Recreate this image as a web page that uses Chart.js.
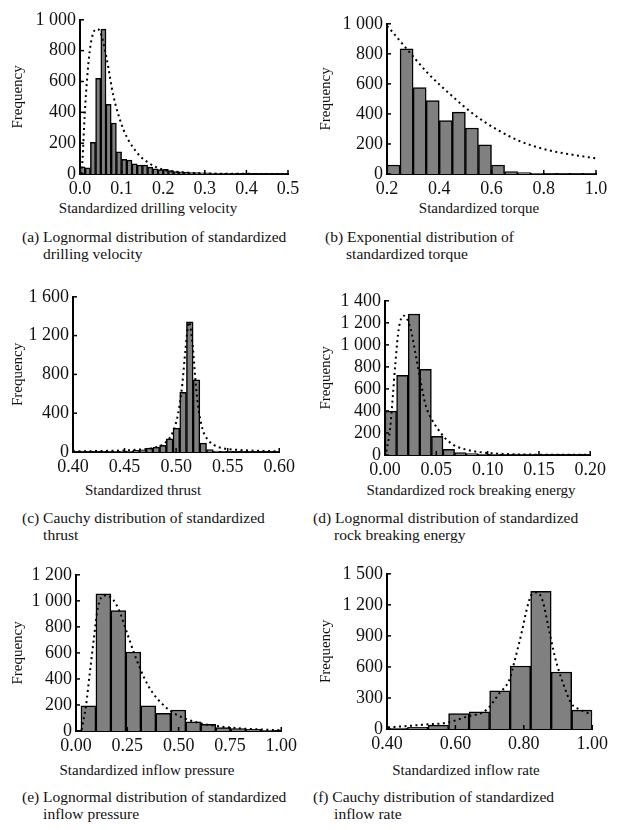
<!DOCTYPE html>
<html>
<head>
<meta charset="utf-8">
<script src="https://cdn.jsdelivr.net/npm/chart.js@4.4.0/dist/chart.umd.min.js"></script>
<style>
  body { margin: 0; background: #fff; }
  #page { position: relative; width: 618px; height: 830px; overflow: hidden; font-family: 'Liberation Serif', serif; color: #111; }
  canvas { position: absolute; }
  .xt { position: absolute; font-size: 15px; white-space: nowrap; transform: translate(-50%, -50%); }
  .cap { position: absolute; font-size: 15.5px; line-height: 17px; white-space: nowrap; padding-left: 1.36em; text-indent: -1.36em; }
</style>
</head>
<body>
<div id="page"></div>
<script>
// ---- data ----
// (a) drilling velocity, bins of 0.0125 from 0
const velBinStart = 0, velBinWidth = 0.0125;
const velCounts = [47, 40, 206, 621, 940, 452, 331, 144, 95, 90, 66, 58, 58, 45, 34, 28, 30, 22, 16, 14,
                   12, 10, 9, 8, 7, 6, 5, 5, 4, 4, 3, 3, 3, 2, 2, 2, 2, 1, 1, 1];
const velFitX = [0.003, 0.006, 0.011, 0.018, 0.025, 0.032, 0.040, 0.048, 0.064, 0.080, 0.105, 0.135, 0.165, 0.200, 0.250, 0.300, 0.400, 0.500];
const velFitY = [0, 90, 370, 650, 830, 915, 940, 925, 750, 510, 285, 145, 72, 28, 10, 4, 1, 0];
const velXTicks = ['0.0', '0.1', '0.2', '0.3', '0.4', '0.5'];
const velYTicks = ['0', '200', '400', '600', '800', '1 000'];

// (b) torque, bins of 0.05 from 0.2
const torBinStart = 0.2, torBinWidth = 0.05;
const torCounts = [60, 834, 575, 488, 356, 412, 306, 194, 60, 16, 9, 5, 3, 2, 2, 2];
const torFitX = [0.200, 0.210, 0.280, 0.357, 0.446, 0.536, 0.625, 0.714, 0.816, 0.918, 1.000];
const torFitY = [985, 967, 823, 670, 524, 392, 292, 215, 159, 126, 104];
const torXTicks = ['0.2', '0.4', '0.6', '0.8', '1.0'];
const torYTicks = ['0', '200', '400', '600', '800', '1 000'];

// (c) thrust, bins of 0.0065
const thrBinStart = 0.3995, thrBinWidth = 0.0065;
const thrCounts = [2, 2, 3, 3, 4, 5, 6, 8, 10, 17, 23, 41, 51, 68, 137, 246, 616, 1342, 743, 92,
                   24, 10, 6, 4, 3, 2, 2, 1, 1, 1, 1];
const thrFitX = [0.400, 0.430, 0.460, 0.480, 0.490, 0.497, 0.502, 0.506, 0.509, 0.5125, 0.516, 0.5185, 0.521, 0.5255, 0.5305, 0.537, 0.545, 0.560, 0.580, 0.600];
const thrFitY = [7, 11, 22, 48, 100, 210, 400, 700, 1050, 1340, 1100, 770, 500, 240, 130, 70, 40, 22, 12, 8];
const thrXTicks = ['0.40', '0.45', '0.50', '0.55', '0.60'];
const thrYTicks = ['0', '400', '800', '1 200', '1 600'];

// (d) rock breaking energy, bins of 0.0113 from 0
const rbeBinStart = 0, rbeBinWidth = 0.0113;
const rbeCounts = [398, 723, 1280, 777, 169, 52, 21, 12, 8, 6, 5, 4, 3, 2, 2, 1, 1, 1];
const rbeFitX = [0.0013, 0.005, 0.0077, 0.0102, 0.0134, 0.0185, 0.025, 0.030, 0.0348, 0.0396, 0.046, 0.0523, 0.0587, 0.0682, 0.081, 0.094, 0.120, 0.150, 0.200];
const rbeFitY = [30, 241, 542, 843, 1145, 1265, 1145, 904, 663, 452, 316, 226, 151, 84, 45, 24, 8, 3, 1];
const rbeXTicks = ['0.00', '0.05', '0.10', '0.15', '0.20'];
const rbeYTicks = ['0', '200', '400', '600', '800', '1 000', '1 200', '1 400'];

// (e) inflow pressure, bins of 0.073 from 0.024
const prsBinStart = 0.024, prsBinWidth = 0.073;
const prsCounts = [194, 1054, 926, 607, 194, 135, 161, 71, 51, 26, 18, 13, 5];
const prsFitX = [0.027, 0.048, 0.067, 0.088, 0.107, 0.139, 0.178, 0.21, 0.25, 0.29, 0.33, 0.37, 0.418, 0.466, 0.53, 0.593, 0.673, 0.753, 0.88, 1.0];
const prsFitY = [8, 186, 441, 722, 951, 1041, 1015, 926, 747, 569, 416, 301, 212, 148, 97, 64, 41, 26, 13, 6];
const prsXTicks = ['0.00', '0.25', '0.50', '0.75', '1.00'];
const prsYTicks = ['0', '200', '400', '600', '800', '1 000', '1 200'];

// (f) inflow rate, bins of 0.06 from 0.4
const rateBinStart = 0.4, rateBinWidth = 0.06;
const rateCounts = [8, 16, 38, 150, 167, 369, 609, 1330, 551, 183];
const rateFitX = [0.403, 0.46, 0.518, 0.575, 0.633, 0.69, 0.728, 0.757, 0.776, 0.795, 0.81, 0.824, 0.838, 0.855, 0.872, 0.891, 0.915, 0.939, 0.968, 1.0];
const rateFitY = [16, 29, 45, 61, 119, 183, 343, 471, 696, 952, 1176, 1304, 1320, 1240, 984, 696, 439, 247, 183, 135];
const rateXTicks = ['0.40', '0.60', '0.80', '1.00'];
const rateYTicks = ['0', '300', '600', '900', '1 200', '1 500'];

// ---- layout ----
const panels = [
  { id: 'a', plot: [80, 19, 288, 174], col: 0, start: velBinStart, width: velBinWidth, counts: velCounts, fx: velFitX, fy: velFitY, xt: velXTicks, yt: velYTicks,
    title: 'Standardized drilling velocity', tpos: [148, 208],
    cap: ['(a) Lognormal distribution of standardized', 'drilling velocity'], cpos: [22, 228] },
  { id: 'b', plot: [387, 23, 596, 174], col: 1, start: torBinStart, width: torBinWidth, counts: torCounts, fx: torFitX, fy: torFitY, xt: torXTicks, yt: torYTicks,
    title: 'Standardized torque', tpos: [479, 208],
    cap: ['(b) Exponential distribution of', 'standardized torque'], cpos: [325, 228] },
  { id: 'c', plot: [73, 296, 283, 452], col: 0, start: thrBinStart, width: thrBinWidth, counts: thrCounts, fx: thrFitX, fy: thrFitY, xt: thrXTicks, yt: thrYTicks,
    title: 'Standardized thrust', tpos: [143, 490],
    cap: ['(c) Cauchy distribution of standardized', 'thrust'], cpos: [22, 509] },
  { id: 'd', plot: [385, 300, 594, 455], col: 1, start: rbeBinStart, width: rbeBinWidth, counts: rbeCounts, fx: rbeFitX, fy: rbeFitY, xt: rbeXTicks, yt: rbeYTicks,
    title: 'Standardized rock breaking energy', tpos: [471, 490],
    cap: ['(d) Lognormal distribution of standardized', 'rock breaking energy'], cpos: [313, 509] },
  { id: 'e', plot: [76, 574, 285, 731], col: 0, start: prsBinStart, width: prsBinWidth, counts: prsCounts, fx: prsFitX, fy: prsFitY, xt: prsXTicks, yt: prsYTicks,
    title: 'Standardized inflow pressure', tpos: [147, 770],
    cap: ['(e) Lognormal distribution of standardized', 'inflow pressure'], cpos: [22, 788] },
  { id: 'f', plot: [387, 573, 596, 729], col: 1, start: rateBinStart, width: rateBinWidth, counts: rateCounts, fx: rateFitX, fy: rateFitY, xt: rateXTicks, yt: rateYTicks,
    title: 'Standardized inflow rate', tpos: [466, 770],
    cap: ['(f) Cauchy distribution of standardized', 'inflow rate'], cpos: [313, 788] }
];

Chart.defaults.font.family = "'Liberation Serif', serif";
Chart.defaults.color = '#111';

// tick marks pointing into the plot
const inwardTicks = {
  id: 'inwardTicks',
  afterDraw(chart) {
    const ctx = chart.ctx, area = chart.chartArea;
    ctx.save();
    ctx.strokeStyle = '#000';
    ctx.lineWidth = 1.5;
    chart.scales.x.ticks.forEach(t => {
      const px = chart.scales.x.getPixelForValue(t.value);
      ctx.beginPath(); ctx.moveTo(px, area.bottom); ctx.lineTo(px, area.bottom - 4); ctx.stroke();
    });
    chart.scales.y.ticks.forEach(t => {
      const py = chart.scales.y.getPixelForValue(t.value);
      ctx.beginPath(); ctx.moveTo(area.left, py); ctx.lineTo(area.left + 4, py); ctx.stroke();
    });
    ctx.restore();
  }
};

const toNum = s => parseFloat(s.replace(/ /g, ''));
const page = document.getElementById('page');

panels.forEach(p => {
  const [pl, pt, pr, pb] = p.plot;
  const left = p.col ? 308 : 0;
  const top = pt - 14;
  const right = Math.min(618, pr + 16);
  const bottom = pb + 24;

  const cv = document.createElement('canvas');
  cv.width = right - left;
  cv.height = bottom - top;
  cv.style.left = left + 'px';
  cv.style.top = top + 'px';
  page.appendChild(cv);

  const xVals = p.xt.map(toNum), yVals = p.yt.map(toNum);
  const bars = p.counts.map((c, i) => ({ x: p.start + (i + 0.5) * p.width, y: c }));
  const fit = p.fx.map((x, i) => ({ x: x, y: p.fy[i] }));

  new Chart(cv, {
    type: 'bar',
    data: {
      datasets: [
        { type: 'line', data: fit, borderColor: '#000', borderWidth: 2, borderDash: [2, 3.5],
          pointRadius: 0, cubicInterpolationMode: 'monotone', fill: false, order: 0 },
        { type: 'bar', data: bars, backgroundColor: '#808080', borderColor: '#000', borderWidth: 1.5,
          barPercentage: 1, categoryPercentage: 1, order: 1 }
      ]
    },
    plugins: [inwardTicks],
    options: {
      responsive: false,
      animation: false,
      layout: { padding: { top: 14, right: right - pr, left: 0, bottom: 0 } },
      plugins: { legend: { display: false }, tooltip: { enabled: false } },
      scales: {
        x: {
          type: 'linear', min: xVals[0], max: xVals[xVals.length - 1], offset: false,
          grid: { display: false, drawTicks: false },
          border: { display: true, color: '#000', width: 2 },
          afterBuildTicks: s => { s.ticks = xVals.map(v => ({ value: v })); },
          afterFit: s => { s.height = bottom - pb; },
          ticks: { font: { size: 18 }, color: '#111', padding: 4, maxRotation: 0, autoSkip: false,
                   callback: (v, i) => p.xt[i] }
        },
        y: {
          min: yVals[0], max: yVals[yVals.length - 1],
          grid: { display: false, drawTicks: false },
          border: { display: true, color: '#000', width: 2 },
          afterBuildTicks: s => { s.ticks = yVals.map(v => ({ value: v })); },
          afterFit: s => { s.width = pl - left; },
          title: { display: true, text: 'Frequency', font: { size: 15 }, color: '#111', padding: { top: 9, bottom: 0 } },
          ticks: { font: { size: 18 }, color: '#111', padding: 4, autoSkip: false,
                   callback: (v, i) => p.yt[i] }
        }
      }
    }
  });

  const t = document.createElement('div');
  t.className = 'xt';
  t.style.left = p.tpos[0] + 'px';
  t.style.top = p.tpos[1] + 'px';
  t.textContent = p.title;
  page.appendChild(t);

  const c = document.createElement('div');
  c.className = 'cap';
  c.style.left = p.cpos[0] + 'px';
  c.style.top = p.cpos[1] + 'px';
  c.innerHTML = p.cap[0] + '<br>' + p.cap[1];
  page.appendChild(c);
});
</script>
</body>
</html>
